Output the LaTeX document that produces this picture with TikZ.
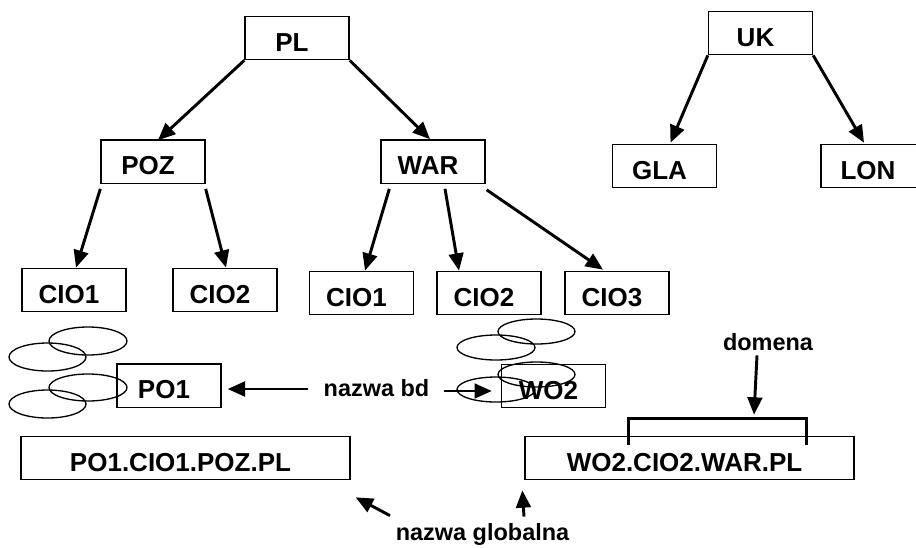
\documentclass[tikz,border=0pt]{standalone}
\usepackage{fontspec}
\setmainfont{Liberation Sans}
\usetikzlibrary{arrows.meta,calc}
\begin{document}
\begin{tikzpicture}[x=0.75pt,y=-0.75pt,
  box/.style={draw, line width=1pt, inner sep=0pt,
    minimum width=78pt, minimum height=32.5pt,
    font=\fontsize{19.5pt}{22pt}\selectfont\bfseries,
    text height=20pt, text depth=0pt,
    execute at end node={\kern7.5pt}},
  wide/.style={minimum width=246.75pt},
  ann/.style={inner sep=0pt, font=\fontsize{17.6pt}{20pt}\selectfont\bfseries,
    text height=9.2pt, text depth=0pt},
  arr/.style={line width=2.2pt, -{Triangle[length=13pt,width=11pt]}},
  blob/.style={line width=1pt}]
\useasboundingbox (0,0) rectangle (916,547);

% domain tree: PL
\node[box] (PL)  at (297,38)    {PL};
\node[box] (POZ) at (153,161.5) {POZ};
\node[box] (WAR) at (433,161.5) {WAR};
\node[box] (C1a) at (74,290)    {CIO1};
\node[box] (C2a) at (225,290)   {CIO2};
\node[box] (C1b) at (361.5,293) {CIO1};
\node[box] (C2b) at (489,293)   {CIO2};
\node[box] (C3b) at (617,293)   {CIO3};

% domain tree: UK
\node[box] (UK)  at (760.5,33)  {UK};
\node[box] (GLA) at (664.5,166) {GLA};
\node[box] (LON) at (873,166)   {LON};

% database names and global names
\node[box] (PO1) at (169,385.5) {PO1};
\node[box] (WO2) at (553.5,386) {WO2};
\node[box,wide] (G1) at (185.5,458) {PO1.CIO1.POZ.PL};
\node[box,wide] (G2) at (689.5,458) {WO2.CIO2.WAR.PL};

% annotations
\node[ann] (nbd) at (376.5,390.5) {nazwa bd};
\node[ann] (dom) at (768,344)     {domena};
\node[ann] (ng)  at (482.5,534)   {nazwa globalna};

% tree edges
\draw[arr] (PL.south west) -- ($(POZ.north)+(5,1)$);
\draw[arr] (PL.south east) -- ($(WAR.north)+(-3,0)$);
\draw[arr] (UK.south west) -- ($(GLA.north)+(6,-1)$);
\draw[arr] (UK.south east) -- ($(LON.north)+(-9,-1)$);
\draw[arr] ($(POZ.south west)+(0,5)$) -- ($(C1a.north)+(2,0)$);
\draw[arr] ($(POZ.south east)+(0,5)$) -- ($(C2a.north)+(1,0)$);
\draw[arr] ($(WAR.south west)+(9,5)$) -- ($(C1b.north)+(3.5,0)$);
\draw[arr] ($(WAR.south)+(12,5)$) -- ($(C2b.north)+(-30,0)$);
\draw[arr] ($(WAR.south east)+(1,6)$) -- ($(C3b.north)+(-14,-1)$);

% database objects
\draw[blob] (88,341) ellipse [x radius=39, y radius=14];
\draw[blob] (47.5,357) ellipse [x radius=38.5, y radius=14];
\draw[blob] (88,387.5) ellipse [x radius=39, y radius=13.5];
\draw[blob] (47.5,404) ellipse [x radius=38.5, y radius=14];
\draw[blob] (536.5,331.5) ellipse [x radius=38.5, y radius=12.5];
\draw[blob] (496,347.5) ellipse [x radius=39, y radius=12.5];
\draw[blob] (536.5,374.5) ellipse [x radius=38.5, y radius=12.5];
\draw[blob] (496,389.5) ellipse [x radius=39, y radius=12.5];

% "nazwa bd" pointers
\draw[arr] ($(nbd.west)+(-15,-1.5)$) -- ($(PO1.east)+(6,3.5)$);
\draw[arr] ($(nbd.east)+(14,0.5)$) -- ($(WO2.west)+(-9,5)$);

% domain bracket over the global name
\draw[line width=2.3pt] ($(G2.north west)+(104,9)$) -- ($(G2.north west)+(104,-17)$)
  -- ($(G2.north west)+(282,-17)$) -- ($(G2.north west)+(282,9)$);
\coordinate (dtip) at ($(G2.north)+(64.5,-21)$);
\draw[arr] ($(dom.south)+(-11,5)$) -- (dtip);

% "nazwa globalna" pointers
\draw[arr] ($(ng.north)+(-92.5,-12)$) -- ($(G1.south east)+(5,17)$);
\draw[arr] ($(ng.north)+(41.5,-11)$) -- ($(G2.south west)+(-2,10)$);
\end{tikzpicture}
\end{document}
